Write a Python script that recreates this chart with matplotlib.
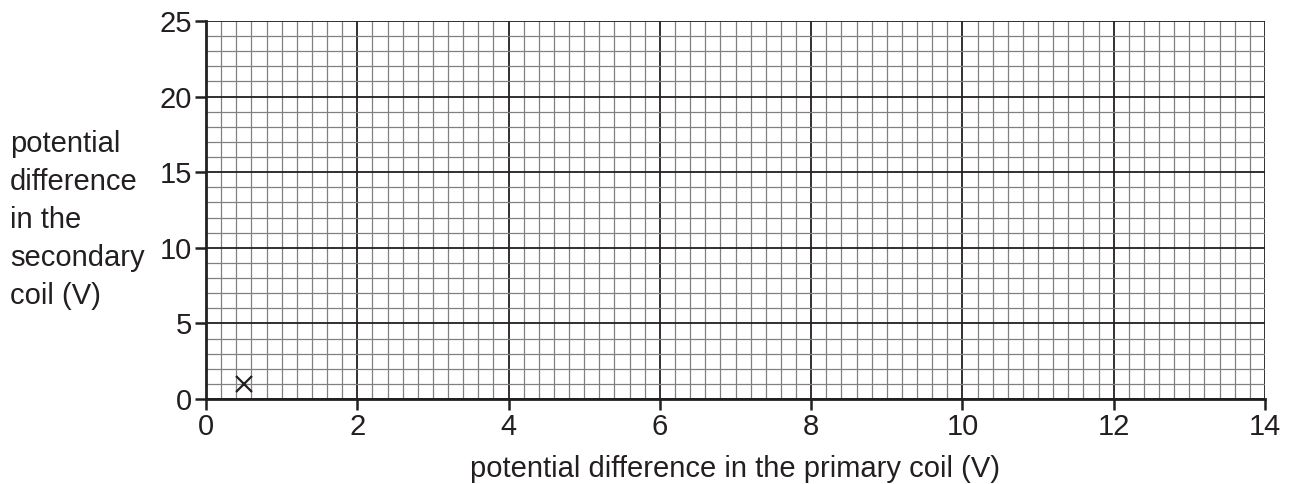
import numpy as np
import matplotlib
matplotlib.use('Agg')
import matplotlib.pyplot as plt
from matplotlib.ticker import MultipleLocator

plt.rcParams['font.family'] = ['Liberation Sans', 'DejaVu Sans']

# plotted point(s)
px = [0.5]
py = [1]

xticks = [0, 2, 4, 6, 8, 10, 12, 14]
yticks = [0, 5, 10, 15, 20, 25]

fig = plt.figure(figsize=(12.94, 4.84), dpi=100)
ax = fig.add_axes([206/1294, 85/484, 1059/1294, 378/484])

ax.set_xlim(0, 14)
ax.set_ylim(0, 25)
ax.set_xticks(xticks)
ax.set_yticks(yticks)
ax.xaxis.set_minor_locator(MultipleLocator(0.2))
ax.yaxis.set_minor_locator(MultipleLocator(1))

ax.grid(which='minor', color='#808080', linewidth=0.9)
ax.grid(which='major', color='#231f20', linewidth=1.3)
ax.set_axisbelow(True)

ax.tick_params(which='major', direction='out', length=8, width=1.8,
               color='#231f20', labelsize=21, labelcolor='#231f20', pad=2)
ax.tick_params(which='minor', length=0)

for s in ['left', 'bottom']:
    ax.spines[s].set_linewidth(2)
    ax.spines[s].set_color('#231f20')
for s in ['top', 'right']:
    ax.spines[s].set_visible(False)

ax.plot(px, py, marker='x', color='#231f20', markersize=11, markeredgewidth=1.6,
        linestyle='none', clip_on=False)

ax.set_xlabel('potential difference in the primary coil (V)', fontsize=21,
              color='#231f20', labelpad=10)
fig.text(10/1294, 1 - 220/484, 'potential\ndifference\nin the\nsecondary\ncoil (V)',
         fontsize=21, color='#231f20', ha='left', va='center', linespacing=1.45)

fig.savefig('out.png', dpi=100)
